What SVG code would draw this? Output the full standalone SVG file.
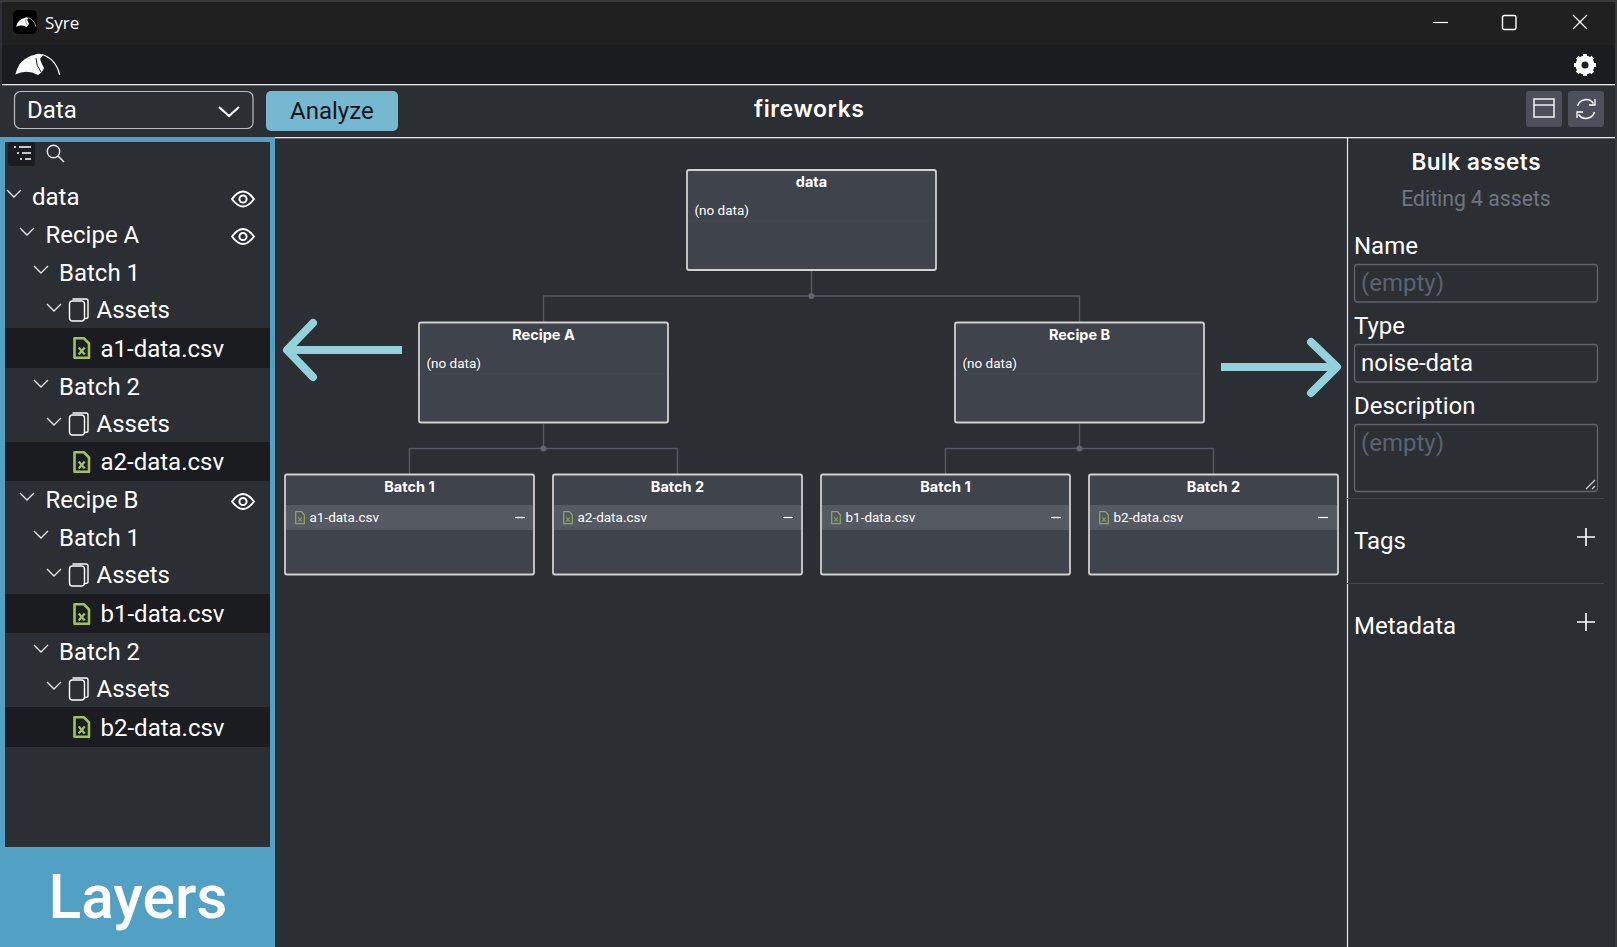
<svg xmlns="http://www.w3.org/2000/svg" xmlns:xlink="http://www.w3.org/1999/xlink" width="1617" height="947" viewBox="0 0 1617 947">
<style>
text{font-family:Roboto,"Liberation Sans",sans-serif;fill:#fff}
.t{font-size:24px}
.lab{font-size:24px}
.ph{font-size:24px;fill:#5b6270}
.sm{font-size:13.5px}
.nt{font-family:Inter,Roboto,sans-serif;font-size:14.5px;font-weight:700;text-anchor:middle}
.chev{fill:none;stroke:#e6e6e6;stroke-width:1.4}
.node{fill:#3f434c;stroke:#d0d0d0;stroke-width:1.8}
.conn{fill:none;stroke:#555963;stroke-width:1.4}
.dot{fill:#5f6470}
.row{fill:#1a1c20}
.inp{fill:#2b2e33;stroke:#5f646e;stroke-width:1.3}
.div{stroke:#43464d;stroke-width:1.2}
.arrow{fill:none;stroke:#93d2da;stroke-width:8}
.arrow.head{stroke-linecap:round;stroke-linejoin:round}
</style>
<defs>
<g id="file"><path d="M1.500 1.300H11L16 6.500V20.800H1.500Z" fill="none" stroke="#a4c15f" stroke-width="2.600" stroke-linejoin="round"/><path d="M5.700 10.500L11.700 17.500M11.700 10.500L5.700 17.500" fill="none" stroke="#a4c15f" stroke-width="2.300"/></g>
<g id="fileS"><path d="M.7 .7H6.5L9.3 3.8V12.6H.7Z" fill="none" stroke="#8faa55" stroke-width="1.2"/><path d="M3.2 6.5L6.8 10.5M6.8 6.5L3.2 10.5" fill="none" stroke="#8faa55" stroke-width="1.1"/></g>
<g id="stack"><rect x="0" y="3" width="15" height="20" rx="3" fill="none" stroke="#fff" stroke-width="1.4"/><path d="M3 1H16.500Q18.500 1 18.500 3V19Q18.500 20.500 15.500 20.500" fill="none" stroke="#fff" stroke-width="1.4"/></g>
<g id="eye"><path d="M-11 0Q0 -15 11 0Q0 15 -11 0Z" fill="none" stroke="#fff" stroke-width="2"/><circle r="3.600" fill="none" stroke="#fff" stroke-width="2"/></g>
<path id="ch" class="chev" d="M0 0L7 7L14 0"/>
<g id="bird"><path d="M1.300 21.500Q4 12 8 8.500Q14 3 20 2Q25 -.5 29 2L26 6Q28 12 30 15Q28 20 24 22Q13 16 1.300 21.500Z" fill="#fff"/><path d="M28 1.500Q42 6 45.700 22" fill="none" stroke="#fff" stroke-width="1.300"/><path d="M22 5Q22 13 27 19" fill="none" stroke="#1a1c20" stroke-width="1"/></g>
</defs>

<rect width="1617" height="947" fill="#2b2e33"/>

<g id="window-chrome">
<rect x="0" y="0" width="1617" height="3" fill="#3a3a3a"/>
<rect x="2" y="2" width="1613" height="43" fill="#202020"/>
<rect x="2" y="45" width="1613" height="39" fill="#1a1c20"/>
<rect x="1615" y="0" width="2" height="947" fill="#3a3a3a"/>
<rect x="13" y="10" width="24" height="24" rx="5" fill="#000"/>
<use xlink:href="#bird" transform="translate(15.500 17) scale(.45)"/>
<text x="45" y="29" style="font-family:'Open Sans',sans-serif;font-size:17px">Syre</text>
<path d="M1433 22.500H1448" stroke="#fff" stroke-width="1.200"/>
<rect x="1502.500" y="15.500" width="13.500" height="14" rx="2" fill="none" stroke="#fff" stroke-width="1.400"/>
<path d="M1573 15L1587 29M1587 15L1573 29" stroke="#fff" stroke-width="1.300"/>
<use xlink:href="#bird" transform="translate(14 53)"/>
<g id="gear" transform="translate(1585 65)"><circle r="6.500" fill="none" stroke="#fff" stroke-width="6"/><path d="M0 -11V11M-11 0H11M-7.800 -7.800L7.800 7.800M7.800 -7.800L-7.800 7.800" stroke="#fff" stroke-width="4"/><circle r="3.500" fill="#1a1c20"/></g>
<rect x="2" y="84" width="1613" height="1.300" fill="#e6e6e6"/>
<rect x="275" y="137" width="1340" height="1.300" fill="#e6e6e6"/>
</g>

<g id="toolbar">
<rect x="14.500" y="91.500" width="238.500" height="37" rx="6" fill="none" stroke="#b9bcc1" stroke-width="1.200"/>
<text x="27" y="118" class="t">Data</text>
<path d="M219 107L229 116L239 107" fill="none" stroke="#fff" stroke-width="2.200"/>
<rect x="266" y="91" width="132" height="40" rx="5" fill="#75b8d0"/>
<text x="290" y="119" class="t" style="fill:#10141a">Analyze</text>
<text x="809" y="117" style="font-family:Inter,Roboto,sans-serif;font-size:23px;font-weight:600;text-anchor:middle" textLength="110">fireworks</text>
<rect x="1526" y="91" width="36" height="36" rx="3" fill="#4c505b"/>
<rect x="1534" y="99" width="20" height="18" fill="none" stroke="#fff" stroke-width="1.400"/><path d="M1534 105H1554" stroke="#fff" stroke-width="1.400"/>
<rect x="1568" y="91" width="36" height="36" rx="3" fill="#4c505b"/>
<path d="M1577.500 106A9 9 0 0 1 1593.500 103.500M1594.500 112A9 9 0 0 1 1578.500 114.500" fill="none" stroke="#fff" stroke-width="1.500"/><path d="M1595 99V105H1589M1577 118V112H1583" fill="none" stroke="#fff" stroke-width="1.300"/>
</g>

<g id="layers-panel">
<path fill-rule="evenodd" d="M0 137H275V947H0ZM5 142V847H270V142Z" fill="#52a1c5"/>
<rect x="8" y="142" width="27" height="24" rx="3" fill="#1a1c20"/>
<path d="M19 147H31M22 153H31M25 159H31" stroke="#fff" stroke-width="1.400"/><path d="M14 147H16M17 153H19M20 159H22" stroke="#fff" stroke-width="1.400"/>
<circle cx="53.500" cy="151.500" r="6.200" fill="none" stroke="#e6e6e6" stroke-width="1.400"/><path d="M58 156L64 162" stroke="#e6e6e6" stroke-width="1.600"/>
<rect class="row" x="5" y="328" width="265" height="40"/>
<rect class="row" x="5" y="442" width="265" height="39"/>
<rect class="row" x="5" y="594" width="265" height="39"/>
<rect class="row" x="5" y="707" width="265" height="40"/>
<use xlink:href="#ch" x="7" y="190"/><text x="32" y="205" class="t">data</text><use xlink:href="#eye" x="243" y="199"/>
<use xlink:href="#ch" x="20" y="228"/><text x="45.500" y="243" class="t">Recipe A</text><use xlink:href="#eye" x="243" y="236.500"/>
<use xlink:href="#ch" x="34" y="266"/><text x="59" y="281" class="t">Batch 1</text>
<use xlink:href="#ch" x="47" y="304"/><use xlink:href="#stack" x="69.500" y="298"/><text x="96.500" y="318" class="t">Assets</text>
<use xlink:href="#file" x="73" y="337"/><text x="100.500" y="357" class="t">a1-data.csv</text>
<use xlink:href="#ch" x="34" y="380"/><text x="59" y="395" class="t">Batch 2</text>
<use xlink:href="#ch" x="47" y="418"/><use xlink:href="#stack" x="69.500" y="412"/><text x="96.500" y="432" class="t">Assets</text>
<use xlink:href="#file" x="73" y="451"/><text x="100.500" y="470" class="t">a2-data.csv</text>
<use xlink:href="#ch" x="20" y="493"/><text x="45.500" y="508" class="t">Recipe B</text><use xlink:href="#eye" x="243" y="501.500"/>
<use xlink:href="#ch" x="34" y="531"/><text x="59" y="546" class="t">Batch 1</text>
<use xlink:href="#ch" x="47" y="569"/><use xlink:href="#stack" x="69.500" y="563"/><text x="96.500" y="583" class="t">Assets</text>
<use xlink:href="#file" x="73" y="603"/><text x="100.500" y="622" class="t">b1-data.csv</text>
<use xlink:href="#ch" x="34" y="645"/><text x="59" y="660" class="t">Batch 2</text>
<use xlink:href="#ch" x="47" y="682"/><use xlink:href="#stack" x="69.500" y="677"/><text x="96.500" y="697" class="t">Assets</text>
<use xlink:href="#file" x="73" y="716"/><text x="100.500" y="736" class="t">b2-data.csv</text>
<text x="138" y="918" style="font-size:60.500px;font-weight:500;text-anchor:middle">Layers</text>
</g>

<g id="connectors">
<path class="conn" d="M811.500 271V296M543.500 322V296H1079.500V322"/>
<circle class="dot" cx="811.500" cy="296" r="3"/>
<path class="conn" d="M543.500 424V448.500M409.500 474V448.500H677.500V474"/>
<circle class="dot" cx="543.500" cy="448.500" r="3"/>
<path class="conn" d="M1079.500 424V448.500M945.500 474V448.500H1213.500V474"/>
<circle class="dot" cx="1079.500" cy="448.500" r="3"/>
</g>

<g id="node-data">
<rect class="node" x="687" y="170" width="249" height="100" rx="2"/>
<text class="nt" x="811.500" y="187">data</text>
<text class="sm" x="694.500" y="215">(no data)</text>
<path d="M688 221H935" stroke="#454952"/>
</g>
<g id="node-recipe-a">
<rect class="node" x="419" y="322.500" width="249" height="100" rx="2"/>
<text class="nt" x="543.500" y="340">Recipe A</text>
<text class="sm" x="426.500" y="368">(no data)</text>
<path d="M420 374H667" stroke="#454952"/>
</g>
<g id="node-recipe-b">
<rect class="node" x="955" y="322.500" width="249" height="100" rx="2"/>
<text class="nt" x="1079.500" y="340">Recipe B</text>
<text class="sm" x="962.500" y="368">(no data)</text>
<path d="M956 374H1203" stroke="#454952"/>
</g>
<g id="node-batch-a1">
<rect class="node" x="285" y="474.500" width="249" height="100" rx="2"/>
<text class="nt" x="409.500" y="492">Batch 1</text>
<rect x="286" y="505" width="247" height="25" fill="#555962"/>
<use xlink:href="#fileS" x="295" y="511"/>
<text class="sm" x="309.500" y="522">a1-data.csv</text>
<path d="M515 517.500H525" stroke="#fff" stroke-width="1.200"/>
</g>
<g id="node-batch-a2">
<rect class="node" x="553" y="474.500" width="249" height="100" rx="2"/>
<text class="nt" x="677.500" y="492">Batch 2</text>
<rect x="554" y="505" width="247" height="25" fill="#555962"/>
<use xlink:href="#fileS" x="563" y="511"/>
<text class="sm" x="577.500" y="522">a2-data.csv</text>
<path d="M783 517.500H793" stroke="#fff" stroke-width="1.200"/>
</g>
<g id="node-batch-b1">
<rect class="node" x="821" y="474.500" width="249" height="100" rx="2"/>
<text class="nt" x="945.500" y="492">Batch 1</text>
<rect x="822" y="505" width="247" height="25" fill="#555962"/>
<use xlink:href="#fileS" x="831" y="511"/>
<text class="sm" x="845.500" y="522">b1-data.csv</text>
<path d="M1051 517.500H1061" stroke="#fff" stroke-width="1.200"/>
</g>
<g id="node-batch-b2">
<rect class="node" x="1089" y="474.500" width="249" height="100" rx="2"/>
<text class="nt" x="1213.500" y="492">Batch 2</text>
<rect x="1090" y="505" width="247" height="25" fill="#555962"/>
<use xlink:href="#fileS" x="1099" y="511"/>
<text class="sm" x="1113.500" y="522">b2-data.csv</text>
<path d="M1318 517.500H1328" stroke="#fff" stroke-width="1.200"/>
</g>

<g id="arrows">
<path class="arrow" d="M402 350H290"/>
<path class="arrow head" d="M313 323L287 350L313 377"/>
<path class="arrow" d="M1221 367H1334"/>
<path class="arrow head" d="M1311 342L1337 367L1311 393"/>
</g>

<g id="bulk-panel">
<path d="M1347.500 137V947" stroke="#e6e6e6" stroke-width="1.200"/>
<text x="1476" y="170" style="font-family:Inter,Roboto,sans-serif;font-size:22.500px;font-weight:600;text-anchor:middle" textLength="129">Bulk assets</text>
<text x="1476" y="206" style="font-size:21.200px;text-anchor:middle;fill:#6f7680">Editing 4 assets</text>
<text x="1354" y="254" class="lab">Name</text>
<rect class="inp" x="1354.500" y="264.500" width="243" height="37.500" rx="3"/>
<text x="1361" y="291" class="ph">(empty)</text>
<text x="1354" y="334" class="lab">Type</text>
<rect class="inp" x="1354.500" y="344.500" width="243" height="37.500" rx="3"/>
<text x="1361" y="371" class="t">noise-data</text>
<text x="1354" y="414" class="lab">Description</text>
<rect class="inp" x="1354.500" y="424.500" width="243" height="67" rx="3"/>
<text x="1361" y="451" class="ph">(empty)</text>
<path d="M1586 489L1595 480M1592 489L1595 486" stroke="#d0d0d0" stroke-width="1.300"/>
<path class="div" d="M1347 498.500H1604M1347 583.500H1604"/>
<text x="1354" y="549" class="lab">Tags</text>
<path d="M1586 528V546M1577 537H1595" stroke="#fff" stroke-width="1.600"/>
<text x="1354" y="634" class="lab">Metadata</text>
<path d="M1586 613V631M1577 622H1595" stroke="#fff" stroke-width="1.600"/>
</g>
</svg>
